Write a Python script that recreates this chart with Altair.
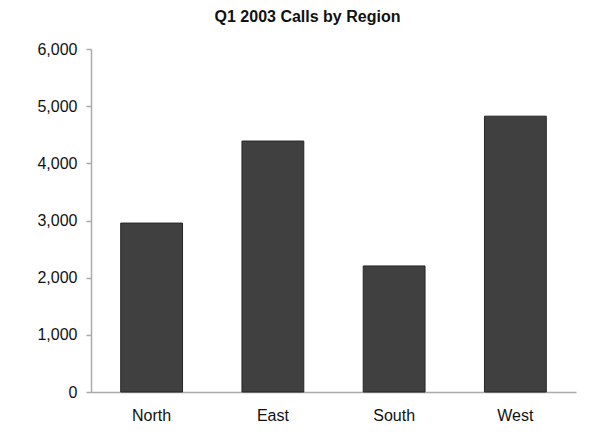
import altair as alt
import pandas as pd

regions = ["North", "East", "South", "West"]
calls = [2955, 4390, 2205, 4825]

df = pd.DataFrame({"Region": regions, "Calls": calls})

chart = alt.Chart(df).mark_bar(
    color="#404040", stroke="#262626", strokeWidth=1
).encode(
    x=alt.X("Region:N", sort=regions, title=None,
            scale=alt.Scale(paddingInner=0.49, paddingOuter=0.245),
            axis=alt.Axis(labelAngle=0, ticks=False, domainColor="#aaaaaa",
                          domainWidth=1.5, labelFontSize=16, labelPadding=15,
                          labelColor="#111111", labelFont="Liberation Sans")),
    y=alt.Y("Calls:Q", title=None,
            scale=alt.Scale(domain=[0, 6000], nice=False),
            axis=alt.Axis(values=[0, 1000, 2000, 3000, 4000, 5000, 6000], format=",.0f",
                          grid=False, tickSize=5, tickColor="#aaaaaa", domainColor="#aaaaaa",
                          domainWidth=1.5, tickWidth=1.5, labelFontSize=16, labelPadding=9,
                          labelColor="#111111", labelFont="Liberation Sans")),
).properties(
    width=485, height=343,
    title=alt.TitleParams("Q1 2003 Calls by Region", fontSize=16, fontWeight="bold",
                          font="Liberation Sans", color="#111111", anchor="middle",
                          dx=-26, offset=16),
    autosize=alt.AutoSizeParams(type="none"),
    padding={"left": 83, "top": 41, "right": 10, "bottom": 40},
).configure_view(stroke=None)

chart.save("out.html", embed_options={"renderer": "svg", "actions": False})
